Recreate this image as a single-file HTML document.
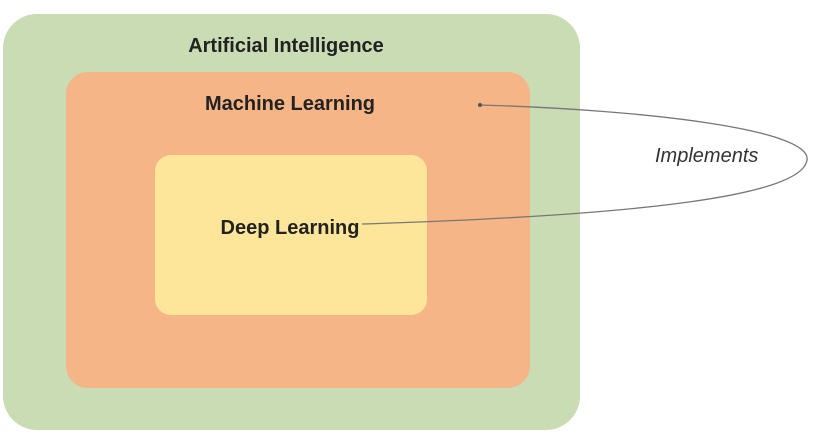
<!DOCTYPE html>
<html><head><style>
body{margin:0;background:#fff;width:813px;height:442px;overflow:hidden;position:relative;font-family:"Liberation Sans",sans-serif}
.b{position:absolute}
.t{position:absolute;font-weight:bold;color:#222;font-size:20px;white-space:nowrap;transform:translateX(-50%)}
</style></head><body>
<div class="b" style="left:3px;top:14px;width:577px;height:416px;background:#c9dcb4;border-radius:34px"></div>
<div class="b" style="left:66px;top:72px;width:464px;height:316px;background:#f5b586;border-radius:22px"></div>
<div class="b" style="left:155px;top:155px;width:272px;height:160px;background:#fde59a;border-radius:16px"></div>
<div class="t" style="left:286px;top:35px">Artificial Intelligence</div>
<div class="t" style="left:290px;top:93px">Machine Learning</div>
<div class="t" style="left:290px;top:217px">Deep Learning</div>
<div class="b" style="left:655px;top:145px;font-style:italic;font-size:20px;color:#333">Implements</div>
<svg class="b" style="left:0;top:0" width="813" height="442">
<path d="M480,105 C650,110 812,130 807,160 C802,195 650,215 362,224" fill="none" stroke="#777" stroke-width="1.3"/>
<circle cx="480" cy="105" r="2" fill="#555"/>
</svg>
</body></html>
